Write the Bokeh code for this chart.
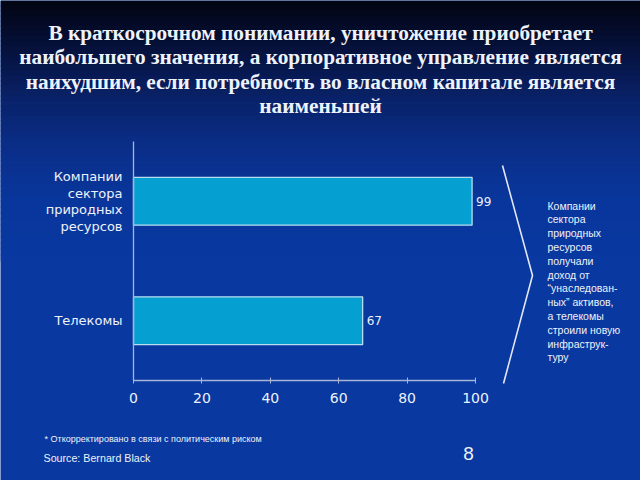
from bokeh.plotting import figure
from bokeh.models import (Range1d, LinearAxis, FixedTicker, Label,
                          BoxAnnotation, PolyAnnotation, ColumnDataSource)
from bokeh.core.properties import value
from bokeh.embed import file_html
from bokeh.resources import INLINE

# ---- data ----
categories = ["Телекомы", "Компании\nсектора\nприродных\nресурсов"]
values = [67, 99]
value_labels = ["67", "99"]
x_ticks = [0, 20, 40, 60, 80, 100]

title_lines = [
    "В краткосрочном понимании, уничтожение приобретает",
    "наибольшего значения, а корпоративное управление является",
    "наихудшим, если потребность во власном капитале является",
    "наименьшей",
]
side_note = ("Компании\nсектора\nприродных\nресурсов\nполучали\nдоход от\n"
             "“унаследован-\nных” активов,\nа телекомы\nстроили новую\n"
             "инфраструк-\nтуру")
footnote = "* Откорректировано в связи с политическим риском"
source_text = "Source: Bernard Black"
page_no = "8"

# ---- layout (pixels of the 640x480 canvas) ----
W, H = 640, 480
AX_X0, AX_X100 = 133, 475      # screen x of value 0 and 100
AX_YB, AX_YT = 380, 141        # screen y of chart bottom / top
BG = "#0838a0"
TXT = "#eef2fa"
AXC = "#a8b4d8"

n = len(categories)
ppx = (AX_X100 - AX_X0) / 100.0
ppy = (AX_YB - AX_YT) / n
x_range = Range1d(-AX_X0 / ppx, (W - AX_X0) / ppx)
y_range = Range1d(-(H - AX_YB) / ppy, n + AX_YT / ppy)
cat_pos = [i + 0.5 for i in range(n)]

p = figure(width=W, height=H, output_backend="svg", toolbar_location=None,
           x_range=x_range, y_range=y_range,
           x_axis_location=None, y_axis_location=None,
           min_border=0, min_border_left=0, min_border_right=0,
           min_border_top=0, min_border_bottom=0)
p.background_fill_color = BG
p.border_fill_color = BG
p.outline_line_color = None
p.grid.visible = False

# background gradient (decoration)
stops = [(0, (2, 4, 18)), (50, (6, 18, 62)), (100, (9, 34, 106)),
         (150, (10, 47, 138)), (200, (9, 54, 156)), (260, (8, 56, 160))]
for i in range(len(stops) - 1):
    y0, c0 = stops[i]
    y1, c1 = stops[i + 1]
    steps = 10
    for k in range(steps):
        t = (k + 0.5) / steps
        c = tuple(int(round(c0[j] + (c1[j] - c0[j]) * t)) for j in range(3))
        ya = y0 + (y1 - y0) * k / steps
        yb = y0 + (y1 - y0) * (k + 1) / steps + 1
        p.add_layout(BoxAnnotation(left=0, right=W, top=ya, bottom=yb,
                                   left_units="canvas", right_units="canvas",
                                   top_units="canvas", bottom_units="canvas",
                                   fill_color="#%02x%02x%02x" % c, fill_alpha=1,
                                   line_color=None, level="underlay"))

# y axis (category labels)
yax = LinearAxis(ticker=FixedTicker(ticks=cat_pos), bounds=(0, n), fixed_location=0,
                 major_label_overrides={pos: c for pos, c in zip(cat_pos, categories)})
yax.axis_line_color = AXC
yax.axis_line_width = 1.3
yax.major_tick_line_color = None
yax.minor_tick_line_color = None
yax.major_tick_out = 0
yax.major_tick_in = 0
yax.major_label_text_color = TXT
yax.major_label_text_font = "DejaVu Sans"
yax.major_label_text_font_size = "13px"
yax.major_label_text_line_height = 1.1
yax.major_label_text_align = "center"
yax.major_label_standoff = 11
p.add_layout(yax, "left")

# x axis
xax = LinearAxis(ticker=FixedTicker(ticks=x_ticks), bounds=(0, 100), fixed_location=0)
xax.axis_line_color = AXC
xax.axis_line_width = 1.3
xax.major_tick_line_color = AXC
xax.major_tick_in = 3
xax.major_tick_out = 3
xax.minor_tick_line_color = None
xax.major_label_text_color = TXT
xax.major_label_text_font = "DejaVu Sans"
xax.major_label_text_font_size = "14px"
xax.major_label_standoff = 9
p.add_layout(xax, "below")

src = ColumnDataSource(dict(y=cat_pos, v=values, t=value_labels))
p.hbar(y="y", right="v", left=0, height=0.4, source=src,
       fill_color="#069fd2", line_color="#b8dcf0", line_width=1.3)
p.text(x="v", y="y", text="t", source=src, x_offset=4, text_baseline="middle",
       text_color=TXT, text_font_size="12px", text_font=value("DejaVu Sans"))

# title
for i, line in enumerate(title_lines):
    p.add_layout(Label(x=W / 2, y=32 + i * 24.5, x_units="canvas", y_units="canvas",
                       text=line, text_align="center", text_baseline="middle",
                       text_font="Liberation Serif", text_font_style="bold",
                       text_font_size="21.3px", text_color=TXT))

# chevron
p.add_layout(PolyAnnotation(xs=[502, 532, 503, 532], ys=[165, 275, 383, 275],
                            xs_units="canvas", ys_units="canvas",
                            fill_color=None, fill_alpha=0, line_color="#e2e8f6",
                            line_alpha=1.0, line_width=1.6))

p.add_layout(Label(x=547, y=199, x_units="canvas", y_units="canvas", text=side_note,
                   text_align="left", text_baseline="top", text_font="Liberation Sans",
                   text_font_size="10.5px", text_line_height=1.15, text_color=TXT))

p.add_layout(Label(x=44, y=438, x_units="canvas", y_units="canvas", text=footnote,
                   text_align="left", text_baseline="middle", text_font="Liberation Sans",
                   text_font_size="9px", text_color=TXT))
p.add_layout(Label(x=43, y=457, x_units="canvas", y_units="canvas", text=source_text,
                   text_align="left", text_baseline="middle", text_font="Liberation Sans",
                   text_font_size="10.7px", text_color=TXT))
p.add_layout(Label(x=468, y=453, x_units="canvas", y_units="canvas", text=page_no,
                   text_align="center", text_baseline="middle", text_font="Liberation Sans",
                   text_font_size="19px", text_color=TXT))

open("out.html", "w").write(file_html(p, INLINE))
